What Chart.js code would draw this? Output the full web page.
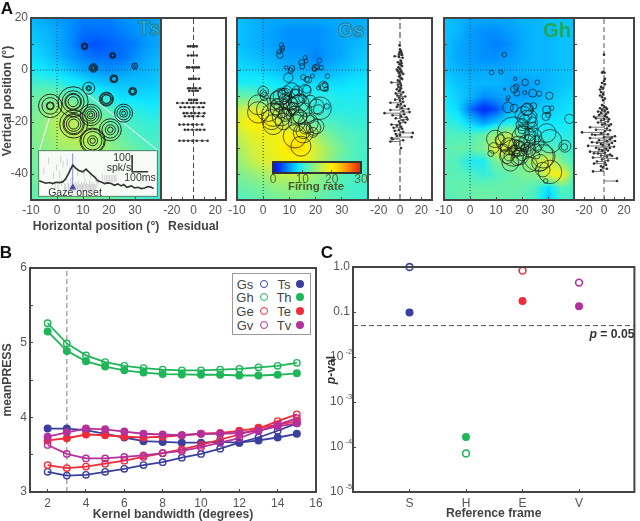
<!DOCTYPE html>
<html>
<head>
<meta charset="utf-8">
<script src="https://cdn.jsdelivr.net/npm/chart.js@4"></script>
<style>
html, body { margin: 0; padding: 0; background: #fff; }
#page { position: relative; width: 640px; height: 521px; overflow: hidden; font-family: "Liberation Sans", Arial, sans-serif; }
#page canvas { position: absolute; left: 0; top: 0; }
.note { position: absolute; transform: translate(-50%, -50%); white-space: nowrap; color: #444; line-height: 1; }
#legend { position: absolute; left: 232px; top: 273px; width: 77px; height: 60px; border: 1px solid #999; background: #fff; }
.dot { position: absolute; border-radius: 50%; box-sizing: border-box; transform: translate(-50%, -50%); }
</style>
</head>
<body>
<div id="page"></div>
<script>
// ---- panel A: firing rate maps, rows y=20..-50 (step 5), columns x=-10..40 (step 5)
const tsField = [
  [6.5,6,5.5,5,4.5,4.5,4.5,5,5.5,5.5,6],
  [7,6.5,6,5,4,4,4,4.5,5,5.5,6],
  [7.5,7,6,5,3.5,3,3.5,4,4.5,5.5,6],
  [8,7.5,6.5,5.5,4.5,4,4,4,5,6,6.5],
  [9,8.5,8,7,6,5.5,5,5.5,6,6.5,7],
  [10.5,10.5,10,9,8.5,7.5,7,7,7,7,7.5],
  [12,12.5,12.5,12,11,10,9,8,8,8,8],
  [12.5,13.5,15,15,13,12,11,10,9.5,9,9],
  [13,14,16,16,15,14,12.5,11,10.5,10,10],
  [13,14,15.5,16,16,15,13.5,12,11,10.5,10.5],
  [13,13.5,14.5,15,15.5,15,14,13,12,11,11],
  [12.5,13,14,14,14.5,14,13,12.5,11.5,11,10.5],
  [12.5,13,13.5,13.5,14,13.5,12.5,12,11.5,10.5,10.5],
  [12,12.5,13,13.5,13.5,13,12.5,11.5,11,10.5,10],
  [12,12,12.5,13,13,12.5,12,11.5,11,10.5,10]
];
const gsField = [
  [7,6.5,6,6,6,6,6,6,6,6,6.5],
  [7,6.5,6,5.5,5,5,5,5.5,6,6,6.5],
  [7,6.5,6,5.5,5,5,5,5.5,6,6.5,7],
  [7.5,7,6.5,6,5.5,5.5,4.5,5.5,6,7,7.5],
  [8,8,7.5,7,6.5,6.5,6,6.5,7,7.5,8],
  [9,9,9,8.5,8,8,8,8,8,8.5,8.5],
  [12,12,11,10,10,9.5,9.5,9.5,9,9,9],
  [16,18,17,15,13,11,10,9.5,9.5,9.5,9.5],
  [18,20,20.5,18,15,13,12,11,10.5,10,10],
  [16,18,19,19,20,20,15,13,11.5,11,10.5],
  [15,17,18,19,21,21,17,14.5,12.5,11,10.5],
  [14,16,17.5,18.5,19,19,16.5,14,12,11,10.5],
  [13,14,15,16,16.5,16,14.5,13,11.5,11,10.5],
  [12,12.5,13,14,14,14,13,12,11,10.5,10.5],
  [11,11.5,12,12.5,13,13,12,11.5,11,10.5,10]
];
const ghField = [
  [7,6.5,6,6,6,6,6.5,6.5,7,7,7],
  [7,6.5,5.5,5,5,5.5,6,6.5,6.5,7,7],
  [7,6,5.5,5,4.5,5,6,6.5,6.5,7,7],
  [7,6,5.5,5,5,5.5,6,6.5,6.5,7,7],
  [7,6.5,6,6,6,6,6.5,6.5,6.5,7,7],
  [8,7,6.5,6.5,6.5,6,5.5,6,6.5,7,7.5],
  [8.5,7.5,6.5,5,5.5,6,5.5,6,7,7.5,8],
  [9,8,4,1.5,3,6,7,7.5,7.5,8,8.5],
  [10,9.5,7.5,5.5,7,9,9,8.5,8.5,8.5,9],
  [11,11,11,12,15,16,11,9.5,9.5,9.5,9.5],
  [11.5,12,12,13,18,17,13,12,11,11,10],
  [11.5,11,9,9,13,14,13,16,18,13,10.5],
  [11.5,11.5,11,10,11,12,13,13.5,18,20,11],
  [11.5,12,12,12,12,12,12,11,8,11.5,10.5],
  [11.5,11.5,12,12.5,12,12,11.5,10.5,7,10.5,10.5]
];

// Ts neurons: position of each receptive field and the radius of each ring
const tsX = [10.6,21.4,14,29.9,21.9,12.2,29.1,19,-2.6,6.2,25.6,13,6.4,20.5,13.7];
const tsY = [9.1,5.6,0.8,1.5,-3.4,-7,-8.2,-11.2,-13.8,-12.2,-16.6,-17.3,-20.8,-23,-27.2];
const tsRings = [
  [3.3,2.6,1.8],[3,2.3,1.6],[4.3,3.4,2.3,1.5],[3,1.4],[4,3.2,2.5],[6,2.7,1.5],[4,3.2,2.3],
  [7,6.2,5,4.2],[11.7,8.3,4,3.2],[15,11,8.3,7.5,5],[9,6.7,4,2],[10.7,8.3,6,4,2],[14,10.7,9.6,7.3,5],[11,8.3,5,2.7],[12.7,11.7,9.3,5,2.7]
];
const tsResidualRows = [
  [9.1,[-5,-3,-1,1,3]],
  [5.6,[-5,-2,0,3]],
  [1,[-6,-4,-1,1,3,5]],
  [-3.4,[-4,-2,0,2,5]],
  [-7,[-5,-3,0,2,6]],
  [-8,[-4,-1,2,4]],
  [-11.5,[-4,-2,1,3]],
  [-12.7,[-15,-10,-6,-2,3,7,10]],
  [-14.3,[-12,-8,-4,0,5,9]],
  [-16.6,[-9,-6,-2,1,5,10]],
  [-17.8,[-8,-4,-1,4,9]],
  [-21,[-13,-9,-5,-1,3,8]],
  [-23,[-8,-5,-1,3,6,10]],
  [-27.2,[-13,-9,-5,-1,3,8,13]]
];

const gsX = [7,7.3,6.1,6.4,7.3,16,16.3,14.7,14.9,21.5,10.9,10.5,8.7,19.8,20.6,19.5,22.1,9.6,15.3,16.6,17.2,18.8,24.5,23.6,23.2,24,21.1,23,0,0,0.4,10.9,16,16.6,7,6.4,8.3,12.8,5.1,10.2,14,6.4,-1.9,1.9,-1.9,12.1,7,3.2,3.8,3.8,7.7,21.7,20.4,21.1,24.3,16,12.8,17.2,19.2,15.3,20.4,15.3,12.1,14.4,16,8.3,11.5,9,13,18,5,14,7,8,9.5,11,12,6,10,13,15,9,5,8,11,14,18,19];
const gsY = [9.6,8.5,7,5.7,7.7,4.8,3.4,2.9,1.5,3.6,0.6,-0.3,1,0.9,1.3,0.3,0.9,-2.9,-2.8,-3.6,-3.8,-2.3,-2.4,-5.7,-6.6,-7.4,-6.9,-6.1,-8.3,-8.9,-10.2,-7.7,-7.9,-7.4,-10.2,-11.5,-9.6,-10.2,-10.8,-12.8,-12.8,-14.7,-13.4,-15.3,-16.3,-17.2,-17.9,-19.1,-21,-17.2,-19.8,-14.7,-14,-15.3,-14,-15.3,-20.4,-20.4,-22.3,-23.6,-21.7,-24.2,-25.5,-29.3,-22.3,-17.2,-14.7,-8,-8,-12,-13,-18,-9,-11,-10,-13,-9,-14,-15,-12,-11,-17,-15,-13,-16,-18,-19,-24];
const gsR = [2.3,2.3,2.3,3.3,1.7,2,2,3,2.7,2.3,3,2.7,1.7,3,2.7,2.3,2.3,4.7,2.7,2.7,3.3,2,2.3,2.7,4,2.3,2,4.7,5.3,3.3,4,7.3,6,4,8.3,10,6.7,7.3,6.7,7.3,9.3,10,10,11.7,10.7,8.7,9.3,10,10,11.7,8.3,11.3,7.3,5,2.7,6.7,8.3,10,7.3,7.3,7.3,10,11.7,10,6,6.7,6,5,5,6,5,7,4,5,3.5,6,4.5,5,7,6,4,5,6,4.5,3.5,7,4,5];
const gsResidualY = [9.5,8,7.3,6.9,6.5,6,5.8,5.3,5,4.7,3.5,3,2.6,2.2,2,1.5,1,0.6,0.2,-0.2,-0.5,-0.8,-1.2,-1.5,-2,-2.5,-3,-3.5,-4,-4.4,-4.8,-5.2,-5.6,-6,-6.5,-7,-7.4,-7.8,-8.2,-8.6,-9,-9.4,-9.8,-10.2,-10.6,-11,-11.4,-11.8,-12.2,-12.6,-13,-13.4,-13.8,-14.2,-14.6,-15,-15.4,-15.8,-16.2,-16.6,-17,-17.4,-17.8,-18.2,-18.6,-19,-19.4,-19.8,-20.2,-20.6,-21,-21.4,-21.8,-22.2,-22.6,-23,-23.4,-23.8,-24.2,-24.6,-25,-25.4,-25.8,-26.2,-26.6,-27,-27.5,-30];
const gsResidual = [-0.5,0,1,-0.5,1.5,-1,2,-5,-1,2.5,1,-2,1.5,-0.5,0.5,2,-1.5,0,-3,1,-2,1.5,-1,3,0,-1,1,2,-2,-0.5,-8,0.5,-2,1,-1.5,1,-3,0,-1,3,-4,1,-2.5,5,-1,2.5,-4.5,0,3,-9,1,-2,4.5,-3,2,8,-9,3,9,-14.5,4,-7,1,6,-4,7,3,-1,5,0,-8,-3,1,-6,2,-1,-5,3,12,-4,0,-3,11,-8,-7,3,-9,1];

const ghX = [13.2,8.3,11.9,17.4,21.2,25.9,13.3,17.8,17,18,21.1,24.1,26.6,30.5,14.8,14.4,14.6,17,24.4,21.8,20.6,23.2,21.8,29.5,29.2,31.4,30.1,38.2,16.7,9.7,8,9.1,13.5,14.8,16.7,18.7,21.8,20.6,24.4,23.1,26.3,28.2,29.5,30.8,36.5,36.3,30.8,28,29.1,15.5,19.3,22.5,17.4,19.9,23.1,25.7,14.2,18,26.9,25.7,19.3,11.6,16,18,20,22,17,19,21,23,24,13,15,20,26,18,21,22,20,24];
const ghY = [5.9,-1,-0.8,-3.4,-4.8,-4.7,-7.4,-6.4,-7.4,-8.9,-8.7,-8.9,-9.1,-9.9,-10.5,-11.5,-14.4,-14.7,-13.8,-15.3,-17.2,-17.9,-19.1,-15.3,-17.9,-14.7,-17.2,-18.8,-24.2,-26.5,-32.1,-30,-27.4,-29.3,-31.9,-29.3,-28.1,-26.1,-25.5,-36.4,-33.2,-33.2,-24.2,-27.4,-29.3,-29.6,-39.2,-38.3,-42.7,-35.7,-33.2,-30.6,-31.3,-23.6,-24.9,-28.1,-33.2,-34.4,-35.7,-32.9,-29.3,-26.8,-31,-32,-33,-31,-30,-29,-30,-27,-22,-30,-33,-21,-30,-28,-19,-15,-23,-20];
const ghR = [2.3,2.3,2,1.7,3.3,2.3,1,2.7,3.7,3,2,4,2.7,3.7,1.7,1.3,5.3,4,3.3,6,8.3,6.7,9.3,4,4,2.3,2.7,4.7,16,8.7,3,5.3,9.3,8.3,13.3,10,8.3,11.7,8.3,7.3,15,11.7,9.3,11.7,6,3.3,11.7,7.3,2.3,8.3,8.3,7.3,6,6.7,6,7.3,7.3,6,8.3,3.3,4.7,5,4,3,5,4,3.5,5,4,6,5,4,5,6,4,3,5,6,4,5];
const ghResidualY = [5.9,-0.8,-1,-1.1,-3.4,-4.2,-5,-5.5,-6.5,-7,-7.5,-8.5,-9.2,-9.8,-10.5,-11,-11.6,-13.5,-14,-14.4,-14.7,-15,-15.3,-15.7,-16,-16.3,-16.6,-17,-17.3,-17.6,-18,-18.2,-18.6,-19,-19.4,-19.8,-20.2,-20.6,-21,-21.5,-22,-22.5,-23,-23.5,-24,-24.3,-24.7,-25,-25.5,-25.9,-26.2,-26.6,-27,-27.4,-27.8,-28.1,-28.5,-28.8,-29.2,-29.5,-29.9,-30.3,-30.6,-31,-31.4,-31.8,-32.1,-32.5,-32.9,-33.3,-33.7,-34,-34.4,-34.8,-35.2,-35.6,-36,-36.5,-37,-37.5,-38,-39,-38.5,-42.7,-23.2,-20.9,-18.9,-26,-28,-30,-32,-33,-24.8,-27.3,-29,-31];
const ghResidual = [0,-1,-2,0.5,1,0,-2,1,-3,-1,-4,-3,-1,-4,-2,1,-1,-2,0,2,-4,3,-2,1,-6,4,-3,2,-5,1,-10,3,-8,0,-3,4,-6,1,-2,5,-14,3,-8,1,-22,-3,4,-9,11,0,-14,6,-5,3,-12,8,-3,5,-16,10,-8,2,-5,4,-14,1,-6,6,-3,3,-11,13,-2,4,-7,1,-10,2,-3,-1,3,-11,-3,13,6,7,5,8,-7,6,-10,8,-12,11,-1,-2];

// inset: peri-saccadic response, time in ms from gaze onset and rate in spk/s
const insetT = [-208,-188,-167,-146,-125,-104,-83,-62,-42,-21,0,17,38,63,83,100,115,135,156,177,198,219,240,260,281,302,317,338,365,385,406,427,448,469,490,504];
const insetRate = [90,84,76,80,74,82,80,84,104,144,184,168,152,144,160,144,130,114,90,84,74,78,74,64,72,60,68,52,60,48,52,44,48,56,52,44];
const spikeT = [-180,-150,-120,-100,-80,-60,-40,-30,-20,-10,5,15,25,35,45,55,65,75,85,95,105,115,125,135,150,-110,-70,-50,-25,0,20,40,60,80,100,120,140,-90,-45,-15,10,30,50,70,90,110,130,160,185,200,210,220,230,240,250,260,270,-75,-35,30,70,110,145];
const spikeRow = [150,210,120,170,130,190,110,62,150,90,52,62,56,70,50,62,56,80,62,50,70,56,62,50,70,62,80,56,50,48,48,50,48,50,48,50,50,48,48,50,46,46,46,46,46,46,48,90,110,104,104,104,104,104,104,104,104,220,200,140,130,120,100];

// ---- panel B: mean PRESS against kernel bandwidth
const bandwidths = [2,3,4,5,6,7,8,9,10,11,12,13,14,15];
const gsPress = [3.27,3.22,3.23,3.27,3.31,3.36,3.40,3.46,3.51,3.58,3.66,3.73,3.82,3.92];
const ghPress = [5.26,4.99,4.83,4.74,4.69,4.66,4.64,4.63,4.63,4.64,4.65,4.67,4.69,4.73];
const gePress = [3.36,3.32,3.34,3.38,3.42,3.47,3.52,3.57,3.63,3.70,3.77,3.85,3.95,4.04];
const gvPress = [3.63,3.51,3.45,3.45,3.47,3.49,3.52,3.55,3.60,3.66,3.72,3.82,3.90,3.99];
const tsPress = [3.85,3.85,3.83,3.78,3.73,3.68,3.67,3.66,3.66,3.67,3.66,3.69,3.73,3.78];
const thPress = [5.15,4.89,4.75,4.68,4.63,4.60,4.58,4.575,4.57,4.57,4.56,4.56,4.57,4.59];
const tePress = [3.69,3.72,3.77,3.76,3.74,3.73,3.74,3.76,3.78,3.79,3.82,3.86,3.90,3.95];
const tvPress = [3.74,3.80,3.85,3.84,3.81,3.78,3.77,3.76,3.78,3.78,3.79,3.82,3.88,3.92];
const legendGaze = ['Gs','Gh','Ge','Gv'];
const legendTarget = ['Ts','Th','Te','Tv'];

// ---- panel C: p values per reference frame
const frames = ['S','H','E','V'];
const pGaze = [1.0,0.000072,0.83,0.45];
const pTarget = [0.098,0.000166,0.175,0.134];
const pTickValues = [1,0.1,0.01,0.001,0.0001,0.00001];
const pTickLabels = ['1.0','0.1','10  ','10  ','10  ','10  '];
const pExponents = ['','','-2','-3','-4','-5'];

const BLUE = '#3b3f9e', GREEN = '#1fb559', RED = '#f22b3a', PURPLE = '#b5309c';
const seriesColors = [BLUE, GREEN, RED, PURPLE];

const page = document.getElementById('page');
const tickFont = { family: 'Liberation Sans', size: 12 };
const titleFont = { family: 'Liberation Sans', size: 12.2, weight: 'bold' };

// colours of the Firing rate bar
const colormap = [
  [0,[8,24,200]],[2.5,[0,64,255]],[5,[0,144,255]],[8.5,[16,232,255]],[11,[80,240,192]],[14,[144,240,128]],
  [17,[208,240,64]],[20,[255,240,0]],[24,[255,168,0]],[27,[255,96,0]],[30,[224,32,16]]
];
function rateColor(v) {
  for (let i = 1; i < colormap.length; i++) {
    if (v <= colormap[i][0]) {
      const a = colormap[i - 1], b = colormap[i];
      const f = Math.max(0, (v - a[0]) / (b[0] - a[0]));
      return a[1].map((c, k) => c + (b[1][k] - c) * f);
    }
  }
  return colormap[colormap.length - 1][1];
}
function fieldAt(grid, x, y) {
  const col = Math.min(Math.max((x + 10) / 5, 0), 9.999);
  const row = Math.min(Math.max((20 - y) / 5, 0), 13.999);
  const c = Math.floor(col), r = Math.floor(row), fc = col - c, fr = row - r;
  return (grid[r][c] * (1 - fc) + grid[r][c + 1] * fc) * (1 - fr) + (grid[r + 1][c] * (1 - fc) + grid[r + 1][c + 1] * fc) * fr;
}
// paint the rate map behind axes
const heatPlugin = {
  id: 'heat',
  beforeDraw(chart, args, opts) {
    if (!opts.value) return;
    const a = chart.chartArea, left = Math.round(a.left), top = Math.round(a.top);
    const w = Math.round(a.right) - left, h = Math.round(a.bottom) - top;
    const img = chart.ctx.createImageData(w, h);
    for (let j = 0; j < h; j++) {
      for (let i = 0; i < w; i++) {
        const rgb = rateColor(opts.value(chart.scales.x.getValueForPixel(left + i), chart.scales.y.getValueForPixel(top + j)));
        const p = (j * w + i) * 4;
        img.data[p] = rgb[0]; img.data[p + 1] = rgb[1]; img.data[p + 2] = rgb[2]; img.data[p + 3] = 255;
      }
    }
    chart.ctx.putImageData(img, left, top);
  }
};
const framePlugin = {
  id: 'frame',
  afterDraw(chart, args, opts) {
    if (!opts.color) return;
    const a = chart.chartArea, ctx = chart.ctx;
    ctx.save();
    ctx.strokeStyle = opts.color;
    ctx.lineWidth = opts.width || 2;
    ctx.strokeRect(a.left, a.top, a.right - a.left, a.bottom - a.top);
    ctx.restore();
  }
};
// small exponents next to the log axis labels
const exponentPlugin = {
  id: 'exponents',
  afterDraw(chart, args, opts) {
    if (!opts.text) return;
    const y = chart.scales.y, ctx = chart.ctx;
    ctx.save();
    ctx.fillStyle = '#555';
    ctx.font = '7.5px "Liberation Sans"';
    opts.text.forEach((t, i) => { if (t) ctx.fillText(t, y.right - 7.5, y.getPixelForValue(pTickValues[i]) - 3); });
    ctx.restore();
  }
};
Chart.register(heatPlugin, framePlugin, exponentPlugin);

function linear(min, max, step, extra) {
  const s = {
    type: 'linear', min: min, max: max,
    ticks: { stepSize: step, color: '#555', font: tickFont, padding: 6, autoSkip: false, maxRotation: 0, includeBounds: false },
    grid: { drawOnChartArea: false, tickLength: -3, color: '#444', lineWidth: 1 },
    border: { color: '#444', width: 2 }
  };
  return Object.assign(s, extra || {});
}
// every chart gets a full page canvas, so plot boxes can be put exactly where they belong
function place(box, config, xh, yw) {
  const canvas = document.createElement('canvas');
  canvas.width = 640; canvas.height = 521;
  page.appendChild(canvas);
  xh = xh || 22; yw = yw || 28;
  config.options = config.options || {};
  config.options.responsive = false;
  config.options.animation = false;
  config.options.events = [];
  config.options.layout = { padding: { left: box[0] - yw, top: box[1], right: 640 - box[2], bottom: 521 - box[3] - xh } };
  config.options.plugins = Object.assign({ legend: { display: false }, tooltip: { enabled: false } }, config.options.plugins || {});
  config.options.scales.x.afterFit = s => { s.height = xh; };
  config.options.scales.y.afterFit = s => { s.width = yw; };
  return new Chart(canvas.getContext('2d'), config);
}
function note(html, x, y, css) {
  const d = document.createElement('div');
  d.className = 'note';
  d.innerHTML = html;
  d.style.cssText = 'left:' + x + 'px;top:' + y + 'px;' + (css || '');
  page.appendChild(d);
  return d;
}
function bubbles(xs, ys, rs, width) {
  return { type: 'bubble', data: xs.map((x, i) => ({ x: x, y: ys[i], r: rs[i] })), backgroundColor: 'transparent', borderColor: '#1a1a1a', borderWidth: width };
}
function guide(points, color, dash, width) {
  return { type: 'scatter', showLine: true, data: points, borderColor: color, borderDash: dash, borderWidth: width, pointRadius: 0 };
}
function bottomTitle(text) {
  return { display: true, text: text, color: '#444', font: titleFont, padding: 0 };
}

function heatPanel(box, field, circles, xTitle, showY, xh) {
  const cross = [
    guide([{ x: 0, y: -50 }, { x: 0, y: 20 }], '#1d4a5a', [1, 2], 1),
    guide([{ x: -10, y: 0 }, { x: 40, y: 0 }], '#1d4a5a', [1, 2], 1)
  ];
  const x = linear(-10, 40, 10);
  x.ticks.callback = v => (v === 40 ? '' : v);
  x.ticks.includeBounds = true;
  if (xTitle) x.title = bottomTitle(xTitle);
  const y = linear(-50, 20, 10);
  y.ticks.display = showY;
  y.ticks.padding = 6;
  y.ticks.callback = v => (v === -50 || v === -30 || v === -10 || v === 10 ? '' : v);
  place(box, {
    type: 'bubble',
    data: { datasets: circles.concat(cross) },
    options: {
      scales: { x: x, y: y },
      plugins: { heat: { value: (px, py) => fieldAt(field, px, py) }, frame: { color: '#444' } }
    }
  }, xh);
}
function residualPanel(box, sticks, dots, zero, yTicks, xTitle, xh) {
  const x = linear(-30, 30, 10);
  x.ticks.includeBounds = true;
  x.ticks.callback = v => (Math.abs(v) === 20 || v === 0 ? v : '');
  if (xTitle) x.title = bottomTitle(xTitle);
  const y = linear(-50, 20, 10);
  y.ticks.display = false;
  y.grid.drawTicks = yTicks;
  place(box, {
    type: 'scatter',
    data: { datasets: [
      { data: dots, pointRadius: 1.3, backgroundColor: '#333', borderWidth: 0 },
      guide(sticks, '#555', [], 0.8),
      guide([{ x: 0, y: -50 }, { x: 0, y: 20 }], zero.color, zero.dash, zero.width)
    ] },
    options: { scales: { x: x, y: y }, plugins: { frame: { color: '#444' } } }
  }, xh);
}
function sticksFrom(ys, rs) {
  const out = [];
  ys.forEach((y, i) => { out.push({ x: 0, y: y }, { x: rs[i], y: y }, { x: null, y: null }); });
  return out;
}

// ---- panel A, Ts
const tsRingX = [], tsRingY = [], tsRingR = [];
tsRings.forEach((rings, i) => rings.forEach(r => { tsRingX.push(tsX[i]); tsRingY.push(tsY[i]); tsRingR.push(r); }));
const wedge = [
  guide([{ x: -2.6, y: -17.2 }, { x: -6.7, y: -30.9 }], '#fff', [], 1),
  guide([{ x: 9.6, y: -7.6 }, { x: 38.7, y: -30.9 }], '#fff', [], 1)
];
heatPanel([31, 18, 161, 200], tsField, [bubbles(tsRingX, tsRingY, tsRingR, 0.9)].concat(wedge), 'Horizontal position (°)', true, 34);
const tsSticks = [], tsDots = [];
tsResidualRows.forEach(row => {
  row[1].forEach(r => { tsDots.push({ x: r, y: row[0] }); tsSticks.push({ x: r, y: row[0] }); });
  tsSticks.push({ x: null, y: null });
});
residualPanel([161, 18, 226, 200], tsSticks, tsDots, { color: '#444', dash: [5, 3], width: 1 }, false, 'Residual', 34);

// ---- panel A, Gs
heatPanel([237, 18, 368, 200], gsField, [bubbles(gsX, gsY, gsR, 0.7)], null, false);
residualPanel([368, 18, 432, 200], sticksFrom(gsResidualY, gsResidual), gsResidualY.map((y, i) => ({ x: gsResidual[i], y: y })), { color: '#999', dash: [6, 3], width: 2 }, true);

// ---- panel A, Gh
heatPanel([444, 18, 574, 200], ghField, [bubbles(ghX, ghY, ghR, 0.7)], null, false);
residualPanel([574, 18, 639, 200], sticksFrom(ghResidualY, ghResidual), ghResidualY.map((y, i) => ({ x: ghResidual[i], y: y })), { color: '#555', dash: [5, 3], width: 1 }, true);

// ---- firing rate bar
const barX = linear(0, 30, 10);
barX.ticks.color = '#5a6a30';
barX.ticks.includeBounds = true;
barX.ticks.padding = 2;
barX.border.color = '#333';
const barY = linear(0, 1, 1);
barY.ticks.display = false;
barY.grid.drawTicks = false;
place([273, 162, 361, 173], {
  type: 'scatter',
  data: { datasets: [] },
  options: {
    scales: { x: barX, y: barY },
    plugins: { heat: { value: px => px }, frame: { color: '#333' } }
  }
});
note('Firing rate', 316, 187, 'font-size:11.5px;font-weight:bold;color:#4d5a2a;');

// ---- inset of the Ts panel
const insetX = linear(-210, 525, 100);
insetX.display = false;
const insetY = linear(0, 268, 100);
insetY.display = false;
const insetBack = document.createElement('div');
insetBack.style.cssText = 'position:absolute;left:39px;top:151px;width:116px;height:43px;background:#f7faf7;border:1.5px solid #dfe8e0;box-shadow:0 0 0 0.7px #4a6a5a;';
page.appendChild(insetBack);
place([39, 151, 157, 196], {
  type: 'scatter',
  data: { datasets: [
    guide(insetT.map((t, i) => ({ x: t, y: insetRate[i] })), '#333', [], 1.6),
    { data: [{ x: 0, y: 50 }], pointStyle: 'triangle', pointRadius: 4, backgroundColor: '#4a4aa8', borderWidth: 0 },
    guide([{ x: 370, y: 244 }, { x: 370, y: 144 }, { x: 470, y: 144 }], '#333', [], 1.6),
    guide([{ x: 0, y: 50 }, { x: 0, y: 254 }], '#8a8ac8', [], 1),
    { data: spikeT.map((t, i) => ({ x: t, y: spikeRow[i] })), pointStyle: 'line', rotation: 90, pointRadius: 3.5, borderColor: '#d2d2d2', borderWidth: 1, backgroundColor: '#d2d2d2' }
  ] },
  options: { scales: { x: insetX, y: insetY } }
}, 1, 1);
note('100', 122, 157, 'font-size:10.5px;color:#333;');
note('spk/s', 119, 167, 'font-size:10.5px;color:#333;');
note('100ms', 140, 176.5, 'font-size:10.5px;color:#333;');
note('Gaze onset', 75, 192, 'font-size:10.5px;color:#333;');

// ---- panel B
function pressLine(values, color, open) {
  return {
    type: 'scatter', showLine: true,
    data: values.map((v, i) => ({ x: bandwidths[i], y: v })),
    borderColor: color, borderWidth: 1.8,
    pointRadius: open ? 3.2 : 4,
    pointBackgroundColor: open ? 'transparent' : color,
    pointBorderColor: color,
    pointBorderWidth: open ? 1.4 : 0
  };
}
const pressX = linear(1.08, 16, 2);
pressX.ticks.padding = 7;
pressX.title = bottomTitle('Kernel bandwidth (degrees)');
const pressY = linear(3, 6, 0.5);
pressY.ticks.padding = 6;
pressY.ticks.callback = v => (Number.isInteger(v) ? v : '');
pressY.title = { display: true, text: 'meanPRESS', color: '#444', font: titleFont, padding: 0 };
place([30, 268, 316, 492], {
  type: 'scatter',
  data: { datasets: [
    pressLine(tvPress, PURPLE, false), pressLine(gvPress, PURPLE, true),
    pressLine(tePress, RED, false), pressLine(gePress, RED, true),
    pressLine(tsPress, BLUE, false), pressLine(gsPress, BLUE, true),
    pressLine(thPress, GREEN, false), pressLine(ghPress, GREEN, true),
    guide([{ x: 3, y: 3 }, { x: 3, y: 6 }], '#999', [5, 3], 1.3)
  ] },
  options: { scales: { x: pressX, y: pressY }, plugins: { frame: { color: '#444' } } }
}, 30, 30);

const legend = document.createElement('div');
legend.id = 'legend';
page.appendChild(legend);
[283.7, 297.3, 311.3, 324.7].forEach((rowY, i) => {
  note(legendGaze[i], 245, rowY, 'font-size:13px;');
  note(legendTarget[i], 284, rowY, 'font-size:13px;');
  const o = document.createElement('div');
  o.className = 'dot';
  o.style.cssText = 'left:' + 263.7 + 'px;top:' + rowY + 'px;width:8px;height:8px;border:1.5px solid ' + seriesColors[i] + ';';
  page.appendChild(o);
  const f = document.createElement('div');
  f.className = 'dot';
  f.style.cssText = 'left:' + 300 + 'px;top:' + rowY + 'px;width:8px;height:8px;background:' + seriesColors[i] + ';';
  page.appendChild(f);
});

// ---- panel C
const frameX = linear(0, 4.98, 1);
frameX.ticks.padding = 7;
frameX.afterBuildTicks = s => { s.ticks = frames.map((f, i) => ({ value: i + 1 })); };
frameX.ticks.callback = (v, i) => frames[i];
frameX.title = bottomTitle('Reference frame');
const pY = {
  type: 'logarithmic', min: 0.00001, max: 1,
  ticks: { color: '#555', font: tickFont, padding: 6, autoSkip: false, callback: (v, i) => pTickLabels[i] },
  grid: { drawOnChartArea: false, tickLength: -3, color: '#444' },
  border: { color: '#444', width: 2 },
  afterBuildTicks: s => { s.ticks = pTickValues.map(v => ({ value: v })); }
};
place([353, 267, 637, 492], {
  type: 'scatter',
  data: { datasets: [
    { data: pGaze.map((p, i) => ({ x: i + 1, y: p })), pointRadius: 3.4, pointBackgroundColor: 'transparent', pointBorderColor: seriesColors, pointBorderWidth: 1.6, clip: false },
    { data: pTarget.map((p, i) => ({ x: i + 1, y: p })), pointRadius: 4, pointBackgroundColor: seriesColors, pointBorderWidth: 0 },
    guide([{ x: 0, y: 0.05 }, { x: 4.98, y: 0.05 }], '#555', [5, 3], 1)
  ] },
  options: { scales: { x: frameX, y: pY }, plugins: { frame: { color: '#444' }, exponents: { text: pExponents } } }
}, 29, 30);

// ---- text that lives outside the axes
const letter = 'font-size:17px;font-weight:bold;color:#111;';
note('A', 7, 8, letter);
note('B', 6, 252, letter);
note('C', 327, 252, letter);
note('Vertical position (°)', 7, 101, 'font-size:12.2px;font-weight:bold;transform:translate(-50%,-50%) rotate(-90deg);');
note('<i>p</i>-val', 331, 370, 'font-size:12.2px;font-weight:bold;color:#333;transform:translate(-50%,-50%) rotate(-90deg);');
note('<i>p</i> = 0.05', 612, 334, 'font-size:12.2px;font-weight:bold;color:#333;');
note('Ts', 149, 28, 'font-size:20px;font-weight:bold;color:rgba(40,190,230,0.6);-webkit-text-stroke:1px #1f7f8f;');
note('Gs', 351, 30, 'font-size:20px;font-weight:bold;color:rgba(60,200,235,0.5);-webkit-text-stroke:1px #2a7a90;');
note('Gh', 557, 30, 'font-size:20px;font-weight:bold;color:#1fa855;');
</script>
</body>
</html>
